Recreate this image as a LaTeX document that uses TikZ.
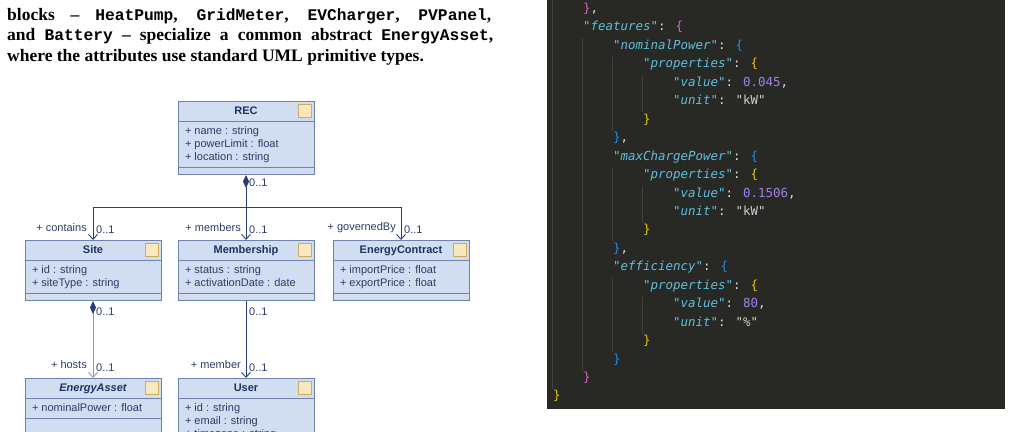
\documentclass[tikz,border=0pt]{standalone}
\usepackage{fontspec}
\setmainfont{Liberation Serif}
\setmonofont[Scale=0.93]{Liberation Mono}
\newfontfamily\umlfont{Liberation Sans}
\newfontfamily\codefont{DejaVu Sans Mono}
\usetikzlibrary{arrows.meta,positioning,shapes.multipart}

\definecolor{umlfill}{RGB}{209,221,240}
\definecolor{umlborder}{RGB}{112,130,172}
\definecolor{umltitle}{RGB}{30,50,98}
\definecolor{umltext}{RGB}{44,60,104}
\definecolor{umlnavy}{RGB}{40,62,115}
\definecolor{umllight}{RGB}{140,156,192}
\definecolor{iconfill}{RGB}{247,232,190}
\definecolor{iconline}{RGB}{206,172,92}
\definecolor{codebg}{RGB}{40,41,36}
\definecolor{codeguide}{RGB}{64,64,60}
\definecolor{jkey}{RGB}{94,192,222}
\definecolor{jnum}{RGB}{162,128,236}
\definecolor{jstr}{RGB}{208,208,200}
\definecolor{jpunct}{RGB}{222,222,216}
\definecolor{bgold}{RGB}{232,196,20}
\definecolor{bpink}{RGB}{214,100,200}
\definecolor{bblue}{RGB}{30,140,235}

\newcommand{\jkey}[1]{\textcolor{jkey}{\itshape"#1"}\textcolor{jpunct}{:} }
\newcommand{\jnum}[1]{\textcolor{jnum}{#1}}
\newcommand{\jstr}[1]{\textcolor{jstr}{"#1"}}
\newcommand{\jcomma}{\textcolor{jpunct}{,}}
\newcommand{\jbrace}[2]{\textcolor{#1}{#2}}
\newcommand{\umltitle}[1]{\rule[-3.5pt]{0pt}{13pt}\textcolor{umltitle}{\bfseries #1}}
\newcommand{\umlops}[1]{\rule{1pt}{0pt}\rule{0pt}{#1}}

\begin{document}
\begin{tikzpicture}[x=1pt,y=-1pt,
	para/.style={anchor=base west,inner sep=0pt,font=\bfseries\fontsize{17.5pt}{20pt}\selectfont},
	umlclass/.style={rectangle split,rectangle split parts=3,
		rectangle split part align={center,left,left},
		draw=umlborder,fill=umlfill,line width=1pt,minimum width=136pt,
		inner xsep=7pt,inner ysep=3pt,text=umltext,anchor=north,
		font=\umlfont\fontsize{11pt}{13pt}\selectfont},
	classicon/.style={draw=iconline,fill=iconfill,line width=0.8pt,minimum size=13pt,inner sep=0pt},
	role/.style={inner sep=0pt,text=umltext,font=\umlfont\fontsize{11pt}{13pt}\selectfont},
	link/.style={draw=umlnavy,line width=0.9pt},
	code/.style={anchor=base west,inner sep=0pt,text=jpunct,font=\codefont\fontsize{12.45pt}{18pt}\selectfont},
	guide/.style={draw=codeguide,line width=1pt}]
	\path[use as bounding box] (0,0) rectangle (1011,431);
	\clip (0,0) rectangle (1011,431);

	% caption text
	\node[para] (txt1) at (7,20) {\makebox[484pt][s]{blocks -- \texttt{HeatPump}, \texttt{GridMeter}, \texttt{EVCharger}, \texttt{PVPanel},}};
	\node[para] (txt2) at (7,40.5) {\makebox[486pt][s]{and \texttt{Battery} -- specialize a common abstract \texttt{EnergyAsset},}};
	\node[para] (txt3) at (7,61) {where the attributes use standard UML primitive types.};

	% class diagram
	\node[umlclass] (rec) at (246,101) {\umltitle{REC}
		\nodepart{two}\begin{tabular}{@{}l@{}}+ name : string\\+ powerLimit : float\\+ location : string\end{tabular}
		\nodepart{three}\umlops{0pt}};
	\node[umlclass] (membership) [below=65pt of rec] {\umltitle{Membership}
		\nodepart{two}\begin{tabular}{@{}l@{}}+ status : string\\+ activationDate : date\end{tabular}
		\nodepart{three}\umlops{0pt}};
	\node[umlclass] (site) [left=16pt of membership] {\umltitle{Site}
		\nodepart{two}\begin{tabular}{@{}l@{}}+ id : string\\+ siteType : string\end{tabular}
		\nodepart{three}\umlops{0pt}};
	\node[umlclass] (contract) [right=18pt of membership] {\umltitle{EnergyContract}
		\nodepart{two}\begin{tabular}{@{}l@{}}+ importPrice : float\\+ exportPrice : float\end{tabular}
		\nodepart{three}\umlops{0pt}};
	\node[umlclass] (asset) [below=77pt of site] {\umltitle{\itshape EnergyAsset}
		\nodepart{two}\begin{tabular}{@{}l@{}}+ nominalPower : float\end{tabular}
		\nodepart{three}\umlops{30pt}};
	\node[umlclass] (user) [below=77pt of membership] {\umltitle{User}
		\nodepart{two}\begin{tabular}{@{}l@{}}+ id : string\\+ email : string\\+ timezone : string\end{tabular}
		\nodepart{three}\umlops{0pt}};

	\node[classicon] (rec-icon) at ([xshift=-10pt,yshift=-9.5pt]rec.north east) {};
	\node[classicon] (membership-icon) at ([xshift=-10pt,yshift=-9.5pt]membership.north east) {};
	\node[classicon] (site-icon) at ([xshift=-10pt,yshift=-9.5pt]site.north east) {};
	\node[classicon] (contract-icon) at ([xshift=-10pt,yshift=-9.5pt]contract.north east) {};
	\node[classicon] (asset-icon) at ([xshift=-10pt,yshift=-9.5pt]asset.north east) {};
	\node[classicon] (user-icon) at ([xshift=-10pt,yshift=-9.5pt]user.north east) {};

	\coordinate (fork) at ([yshift=-32pt]rec.south);
	\draw[link,{Diamond[length=13pt,width=6pt]}-{Straight Barb[length=5pt,width=9pt]}] (rec.south) -- (membership.north);
	\draw[link,-{Straight Barb[length=5pt,width=9pt]}] (fork) -| (site.north);
	\draw[link,-{Straight Barb[length=5pt,width=9pt]}] (fork) -| (contract.north);
	\draw[link,draw=umllight,{Diamond[length=13pt,width=6pt,color=umlnavy]}-{Straight Barb[length=5pt,width=9pt]}] (site.south) -- (asset.north);
	\draw[link,-{Straight Barb[length=5pt,width=9pt]}] (membership.south) -- (user.north);

	\node[role,anchor=west] (rec-mult) at ([xshift=3pt,yshift=-8pt]rec.south) {0..1};
	\node[role,anchor=east] (site-role) at ([xshift=-6pt,yshift=12pt]site.north) {+ contains};
	\node[role,anchor=west] (site-mult) at ([xshift=3pt,yshift=10pt]site.north) {0..1};
	\node[role,anchor=east] (membership-role) at ([xshift=-5pt,yshift=12pt]membership.north) {+ members};
	\node[role,anchor=west] (membership-mult) at ([xshift=3pt,yshift=10pt]membership.north) {0..1};
	\node[role,anchor=east] (contract-role) at ([xshift=-5pt,yshift=12pt]contract.north) {+ governedBy};
	\node[role,anchor=west] (contract-mult) at ([xshift=3pt,yshift=10pt]contract.north) {0..1};
	\node[role,anchor=west] (site-src) at ([xshift=3pt,yshift=-11pt]site.south) {0..1};
	\node[role,anchor=east] (asset-role) at ([xshift=-6pt,yshift=13pt]asset.north) {+ hosts};
	\node[role,anchor=west] (asset-mult) at ([xshift=3pt,yshift=10pt]asset.north) {0..1};
	\node[role,anchor=west] (membership-src) at ([xshift=3pt,yshift=-11pt]membership.south) {0..1};
	\node[role,anchor=east] (user-role) at ([xshift=-5pt,yshift=13pt]user.north) {+ member};
	\node[role,anchor=west] (user-mult) at ([xshift=3pt,yshift=10pt]user.north) {0..1};

	% code panel
	\fill[codebg] (547,0) rectangle (1005,409);
	\draw[guide] (552,0) -- (552,389);
	\draw[guide] (582,38.4) -- (582,370.5);
	\draw[guide] (612,56.85) -- (612,130.65);
	\draw[guide] (612,167.55) -- (612,241.35);
	\draw[guide] (612,278.25) -- (612,352.05);
	\draw[guide] (642,75.3) -- (642,112.2);
	\draw[guide] (642,186) -- (642,222.9);
	\draw[guide] (642,296.7) -- (642,333.6);

	\node[code] (c1) at (583,12.5) {\jbrace{bpink}{\}}\jcomma};
	\node[code] (c2) at (583,30.95) {\jkey{features}\jbrace{bpink}{\{}};
	\node[code] (c3) at (613,49.4) {\jkey{nominalPower}\jbrace{bblue}{\{}};
	\node[code] (c4) at (643,67.85) {\jkey{properties}\jbrace{bgold}{\{}};
	\node[code] (c5) at (673,86.3) {\jkey{value}\jnum{0.045}\jcomma};
	\node[code] (c6) at (673,104.75) {\jkey{unit}\jstr{kW}};
	\node[code] (c7) at (643,123.2) {\jbrace{bgold}{\}}};
	\node[code] (c8) at (613,141.65) {\jbrace{bblue}{\}}\jcomma};
	\node[code] (c9) at (613,160.1) {\jkey{maxChargePower}\jbrace{bblue}{\{}};
	\node[code] (c10) at (643,178.55) {\jkey{properties}\jbrace{bgold}{\{}};
	\node[code] (c11) at (673,197) {\jkey{value}\jnum{0.1506}\jcomma};
	\node[code] (c12) at (673,215.45) {\jkey{unit}\jstr{kW}};
	\node[code] (c13) at (643,233.9) {\jbrace{bgold}{\}}};
	\node[code] (c14) at (613,252.35) {\jbrace{bblue}{\}}\jcomma};
	\node[code] (c15) at (613,270.8) {\jkey{efficiency}\jbrace{bblue}{\{}};
	\node[code] (c16) at (643,289.25) {\jkey{properties}\jbrace{bgold}{\{}};
	\node[code] (c17) at (673,307.7) {\jkey{value}\jnum{80}\jcomma};
	\node[code] (c18) at (673,326.15) {\jkey{unit}\jstr{\%}};
	\node[code] (c19) at (643,344.6) {\jbrace{bgold}{\}}};
	\node[code] (c20) at (613,363.05) {\jbrace{bblue}{\}}};
	\node[code] (c21) at (583,381.5) {\jbrace{bpink}{\}}};
	\node[code] (c22) at (553,399.95) {\jbrace{bgold}{\}}};
\end{tikzpicture}
\end{document}
